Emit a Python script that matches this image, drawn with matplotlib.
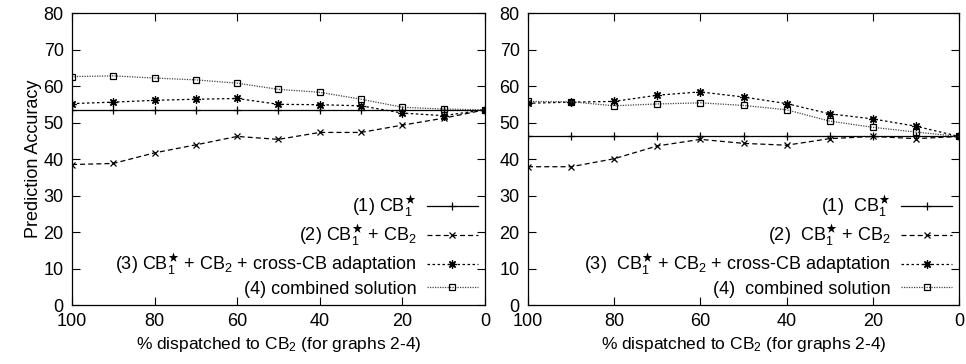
import matplotlib
matplotlib.use("Agg")
import matplotlib.pyplot as plt

plt.rcParams["font.family"] = ["Liberation Sans", "DejaVu Sans"]
plt.rcParams["mathtext.fontset"] = "custom"
plt.rcParams["mathtext.rm"] = "Liberation Sans"
plt.rcParams["mathtext.it"] = "Liberation Sans:italic"
plt.rcParams["mathtext.bf"] = "Liberation Sans:bold"

x = [100, 90, 80, 70, 60, 50, 40, 30, 20, 10, 0]

# left graph
left_cb1 = [53.5] * 11
left_cb1_cb2 = [38.5, 38.8, 41.7, 43.9, 46.2, 45.4, 47.3, 47.3, 49.3, 51.2, 53.5]
left_cross = [55.2, 55.6, 56.1, 56.4, 56.6, 55.0, 54.9, 54.6, 52.6, 51.9, 53.5]
left_combined = [62.6, 62.8, 62.2, 61.7, 60.8, 59.1, 58.3, 56.4, 54.2, 53.7, 53.5]

# right graph
right_cb1 = [46.2] * 11
right_cb1_cb2 = [37.9, 37.9, 40.1, 43.6, 45.4, 44.3, 43.8, 45.6, 46.2, 45.6, 46.2]
right_cross = [55.3, 55.6, 55.8, 57.5, 58.4, 57.0, 55.2, 52.4, 51.0, 49.0, 46.2]
right_combined = [55.8, 55.7, 54.6, 55.1, 55.4, 54.7, 53.5, 50.4, 48.7, 47.4, 46.2]

cb1 = r"CB$_1^{\bigstar}$"
labels_left = [
    "(1) " + cb1,
    "(2) " + cb1 + r" + CB$_2$",
    "(3) " + cb1 + r" + CB$_2$ + cross-CB adaptation",
    "(4) combined solution",
]
labels_right = [
    "(1)  " + cb1,
    "(2)  " + cb1 + r" + CB$_2$",
    "(3)  " + cb1 + r" + CB$_2$ + cross-CB adaptation",
    "(4)  combined solution",
]

fig = plt.figure(figsize=(9.66, 3.64), dpi=100)
ax1 = fig.add_axes([0.0745, 0.162, 0.4275, 0.802])
ax2 = fig.add_axes([0.5466, 0.162, 0.4462, 0.802])


def draw(ax, s1, s2, s3, s4, labels):
    ax.plot(x, s1, color="black", lw=0.9, marker="+", ms=6, mew=0.9, label=labels[0])
    ax.plot(x, s2, color="black", lw=0.9, ls=(0, (4, 2.5)), marker="x", ms=5, mew=0.9, label=labels[1])
    ax.plot(x, s3, color="black", lw=0.9, ls=(0, (2, 2)), marker=(8, 2, 0), ms=6, mew=0.9, label=labels[2])
    ax.plot(x, s4, color="#444444", lw=0.9, ls=(0, (1, 1)), marker="s", ms=5, mew=0.9,
            mfc="none", mec="black", label=labels[3])
    ax.set_xlim(100, 0)
    ax.set_ylim(0, 80)
    ax.set_xticks([100, 80, 60, 40, 20, 0])
    ax.set_yticks(range(0, 81, 10))
    ax.tick_params(direction="in", top=True, right=True, length=6, width=0.8, labelsize=13, pad=6)
    for sp in ax.spines.values():
        sp.set_linewidth(0.9)
    ax.set_xlabel(r"% dispatched to CB$_2$ (for graphs 2-4)", fontsize=12.5, labelpad=3)
    ax.legend(loc="lower right", frameon=False, markerfirst=False, fontsize=13,
              handlelength=2.8, labelspacing=0.2, borderaxespad=0.1, borderpad=0.3,
              handletextpad=0.6)


draw(ax1, left_cb1, left_cb1_cb2, left_cross, left_combined, labels_left)
draw(ax2, right_cb1, right_cb1_cb2, right_cross, right_combined, labels_right)
ax1.set_ylabel("Prediction Accuracy", fontsize=13, labelpad=1)

fig.savefig("out.png", dpi=100)
